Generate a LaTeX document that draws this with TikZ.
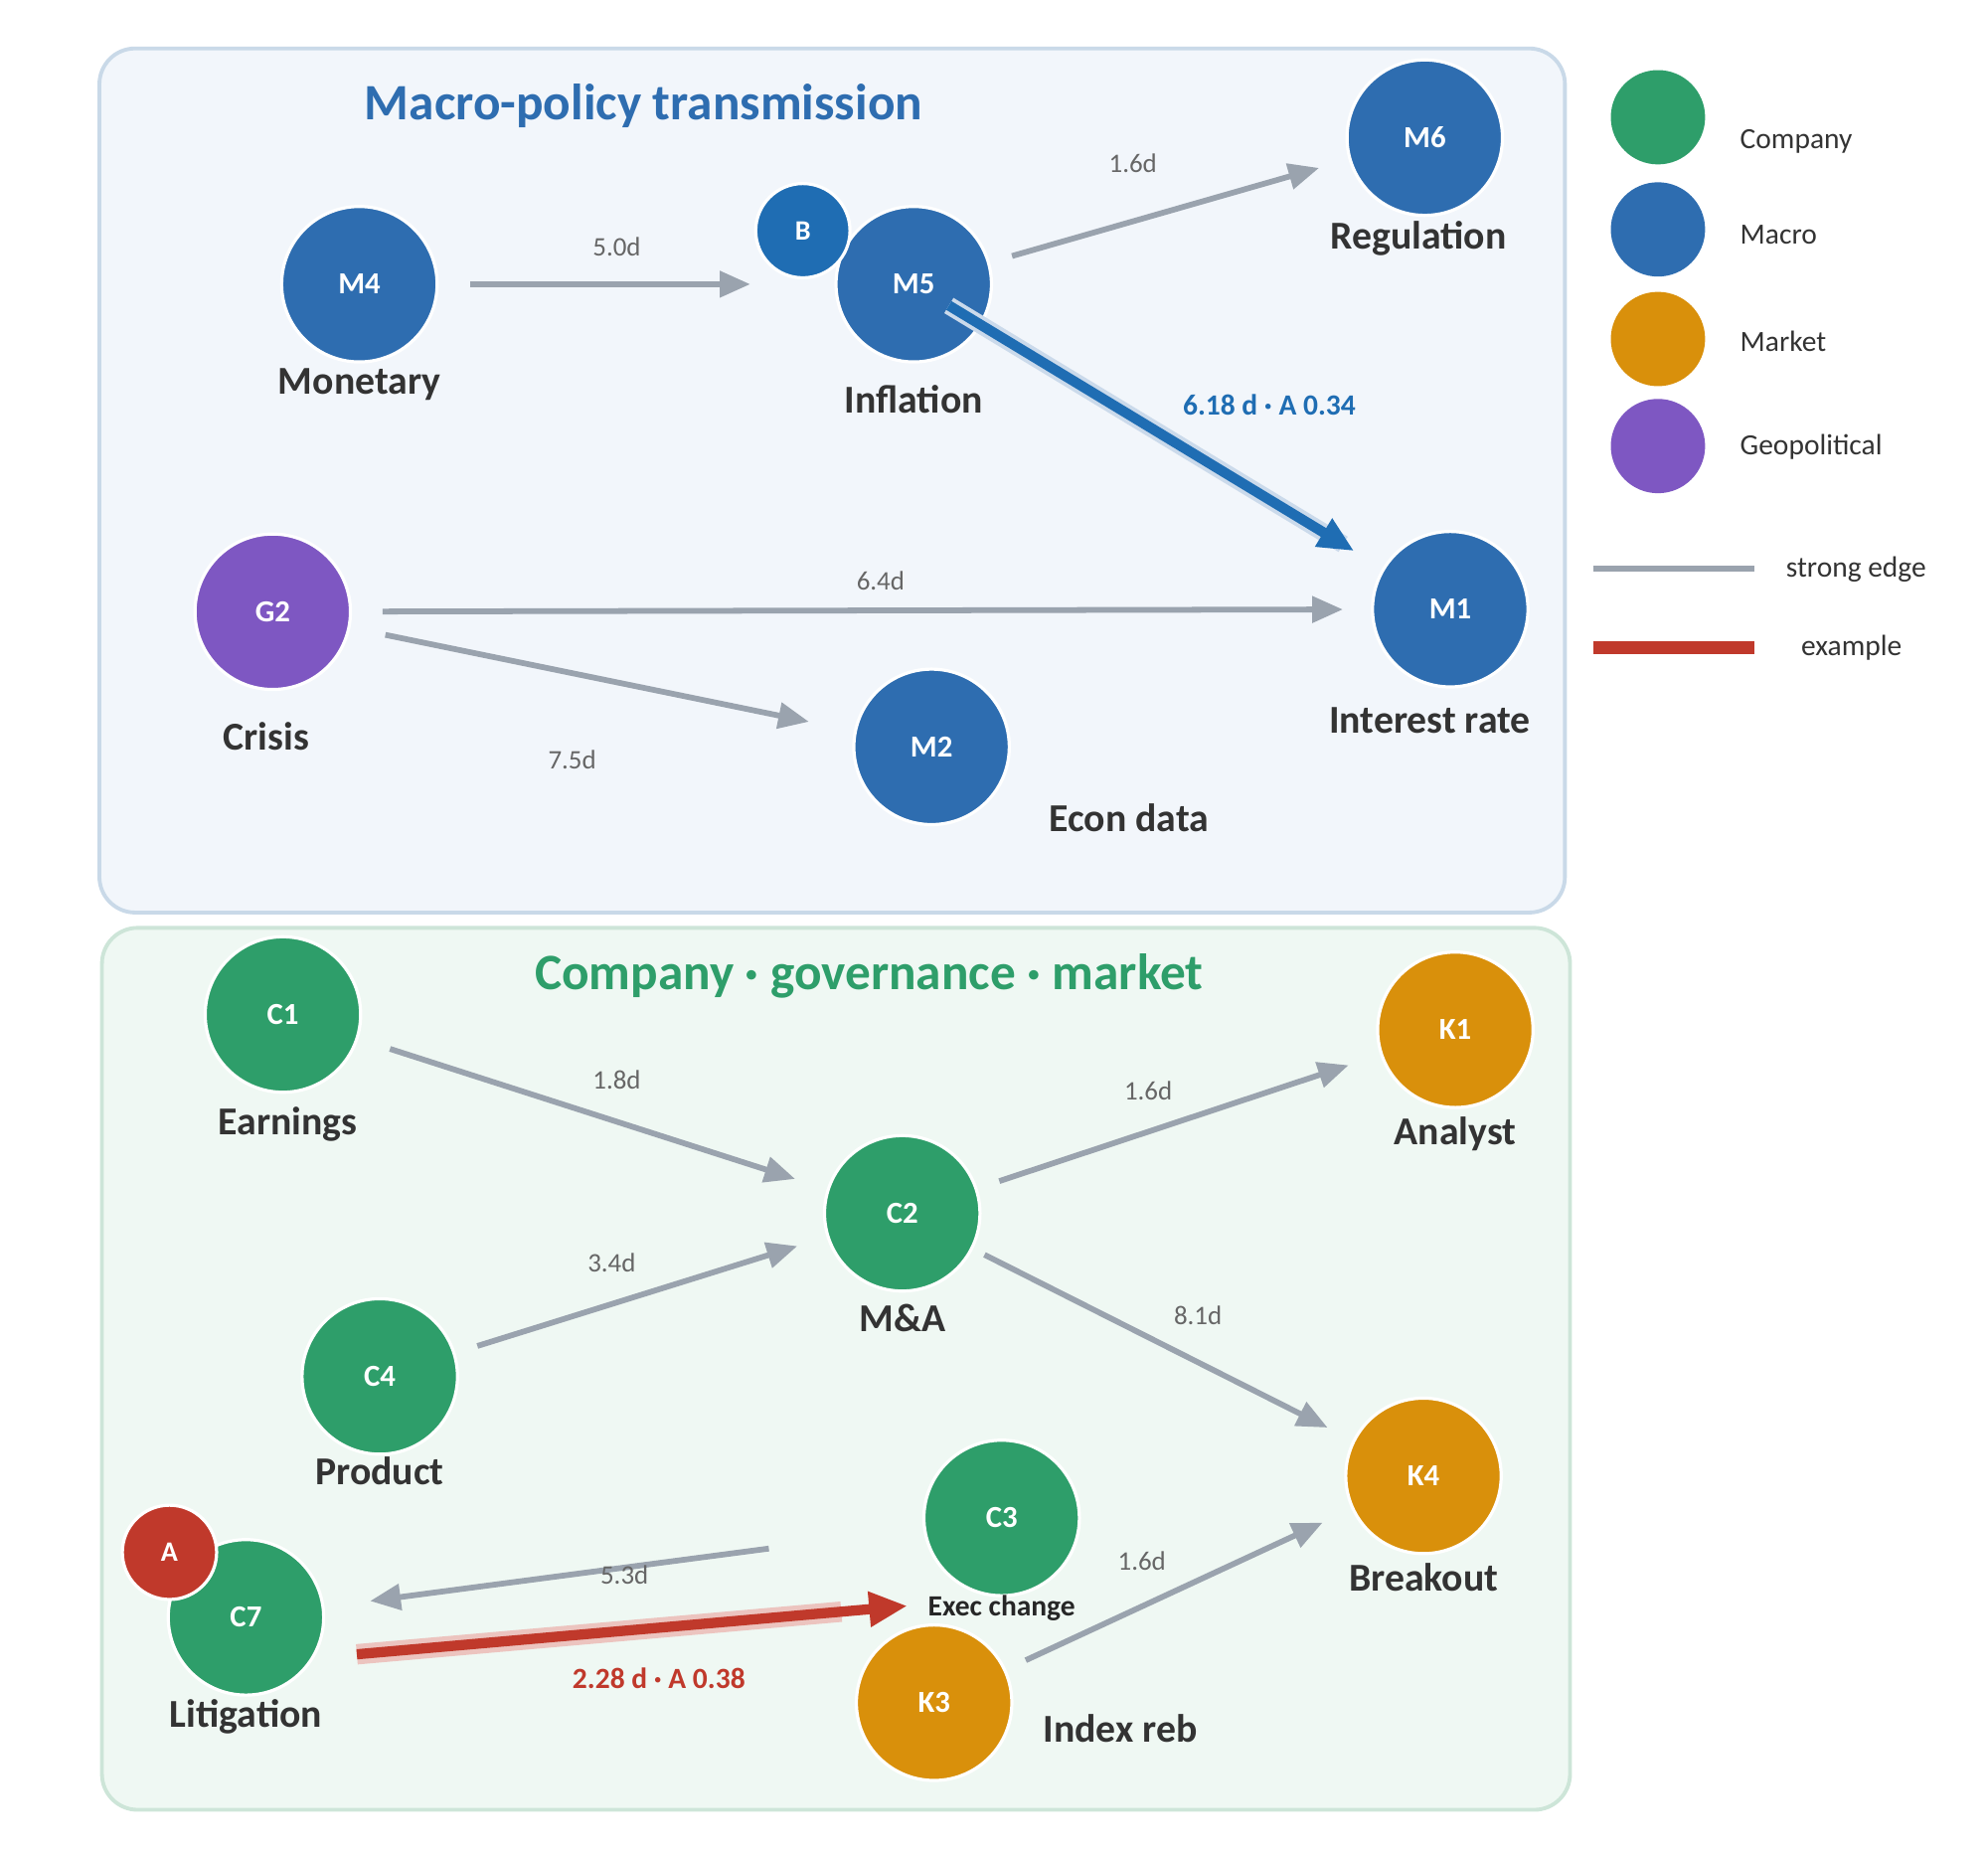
\documentclass[tikz,border=0pt]{standalone}
\usepackage{fontspec}
\setmainfont{Carlito}
\usetikzlibrary{arrows.meta,calc}
\definecolor{cgreen}{HTML}{2E9E6A}
\definecolor{cblue}{HTML}{2E6DB0}
\definecolor{corange}{HTML}{D9900B}
\definecolor{cpurple}{HTML}{7E57C2}
\definecolor{cred}{HTML}{C0392B}
\definecolor{cgray}{HTML}{9AA3AE}
\definecolor{dblue}{HTML}{1F6DB3}
\begin{document}
\begin{tikzpicture}[x=1pt,y=-1pt,
 nd/.style={circle,minimum size=122pt,inner sep=0pt,draw=white,line width=2.5pt,text=white,font=\fontsize{24}{24}\selectfont\bfseries},
 sm/.style={circle,minimum size=74pt,inner sep=0pt,draw=white,line width=2.5pt,text=white,font=\fontsize{22}{22}\selectfont\bfseries},
 lb/.style={font=\fontsize{31}{31}\selectfont\bfseries,text=black!80},
 el/.style={font=\fontsize{21}{21}\selectfont,text=black!60},
 ed/.style={draw=cgray,line width=4.5pt,-{Triangle[length=24pt,width=20pt]},shorten <=26pt,shorten >=26pt},
 lg/.style={font=\fontsize{23}{23}\selectfont,text=black!80,anchor=west}]
\useasboundingbox (0,0) rectangle (1560,1455);
% panels
\draw[fill={rgb,255:red,242;green,246;blue,251},draw={rgb,255:red,201;green,217;blue,232},line width=3pt,rounded corners=28pt] (78,38) rectangle (1228,716);
\draw[fill={rgb,255:red,239;green,248;blue,243},draw={rgb,255:red,205;green,229;blue,216},line width=3pt,rounded corners=28pt] (80,728) rectangle (1232,1420);
\node[font=\fontsize{40}{40}\selectfont\bfseries,text=cblue] (t1) at (505,83) {Macro-policy transmission};
\node[font=\fontsize{40}{40}\selectfont\bfseries,text=cgreen] (t2) at (682,766) {Company · governance · market};
% nodes
\node[nd,fill=cblue] (M4) at (282,223) {M4};
\node[nd,fill=cblue] (M5) at (717,223) {M5};
\node[sm,fill=dblue] (B) at (630,181) {B};
\node[nd,fill=cblue] (M6) at (1118,108) {M6};
\node[nd,fill=cpurple] (G2) at (214,480) {G2};
\node[nd,fill=cblue] (M2) at (731,586) {M2};
\node[nd,fill=cblue] (M1) at (1138,478) {M1};
\node[nd,fill=cgreen] (C1) at (222,796) {C1};
\node[nd,fill=cgreen] (C2) at (708,952) {C2};
\node[nd,fill=corange] (K1) at (1142,808) {K1};
\node[nd,fill=cgreen] (C4) at (298,1080) {C4};
\node[nd,fill=corange] (K4) at (1117,1158) {K4};
\node[nd,fill=cgreen] (C3) at (786,1191) {C3};
\node[nd,fill=cgreen] (C7) at (193,1269) {C7};
\node[sm,fill=cred] (A) at (133,1218) {A};
\node[nd,fill=corange] (K3) at (733,1336) {K3};
% labels
\node[lb] (lM4) at (282,302) {Monetary};
\node[lb] (lM5) at (717,313) {Inflation};
\node[lb] (lM6) at (1113,187) {Regulation};
\node[lb] (lG2) at (209,578) {Crisis};
\node[lb] (lM2) at (886,642) {Econ data};
\node[lb] (lM1) at (1122,565) {Interest rate};
\node[lb] (lC1) at (226,882) {Earnings};
\node[lb] (lC2) at (708,1034) {M\&A};
\node[lb] (lK1) at (1142,890) {Analyst};
\node[lb] (lC4) at (298,1154) {Product};
\node[lb] (lK4) at (1117,1238) {Breakout};
\node[font=\fontsize{23}{23}\selectfont\bfseries,text=black!85] (lC3) at (786,1262) {Exec change};
\node[lb] (lC7) at (193,1347) {Litigation};
\node[lb] (lK3) at (879,1356) {Index reb};
% edges
\draw[ed,shorten <=25pt,shorten >=66pt] (M4) -- (M5);
\node[el] at (484,194) {5.0d};
\draw[ed,shorten <=18pt,shorten >=24pt] (M5) -- (M6);
\node[el] at (889,128) {1.6d};
\draw[draw=cblue!25,line width=14pt,shorten <=-30pt,shorten >=36pt] (M5) -- (M1);
\draw[draw=dblue,line width=8pt,-{Triangle[length=28pt,width=24pt]},shorten <=-30pt,shorten >=26pt] (M5) -- (M1);
\node[font=\fontsize{23}{23}\selectfont\bfseries,text=dblue] at (996,318) {6.18 d · A 0.34};
\draw[ed,shorten <=24pt,shorten >=22pt] (G2) -- (M1);
\node[el] at (691,456) {6.4d};
\draw[ed,shorten <=28pt,shorten >=36pt] (G2) -- (M2);
\node[el] at (449,596) {7.5d};
\draw[ed] (C1) -- (C2);
\node[el] at (484,847) {1.8d};
\draw[ed,shorten <=18pt] (C2) -- (K1);
\node[el] at (901,856) {1.6d};
\draw[ed,shorten <=18pt,shorten >=24pt] (C4) -- (C2);
\node[el] at (480,991) {3.4d};
\draw[ed,shorten <=10pt,shorten >=22pt] (C2) -- (K4);
\node[el] at (940,1032) {8.1d};
\draw[ed,shorten <=122pt,shorten >=36pt] (C3) -- (C7);
\node[el] at (490,1236) {5.3d};
\draw[ed,shorten <=17pt,shorten >=25pt] (K3) -- (K4);
\node[el] at (896,1225) {1.6d};
\coordinate (rs) at (280,1298);
\coordinate (re) at (712,1260);
\draw[draw=cred!30,line width=16pt] (rs) -- ($(rs)!0.88!(re)$);
\draw[draw=cred,line width=8pt,-{Triangle[length=30pt,width=26pt]}] (rs) -- (re);
\node[font=\fontsize{23}{23}\selectfont\bfseries,text=cred] at (517,1317) {2.28 d · A 0.38};
% legend
\node[sm,fill=cgreen,draw=none] (L1) at (1301,92) {};
\node[sm,fill=cblue,draw=none] (L2) at (1301,180) {};
\node[sm,fill=corange,draw=none] (L3) at (1301,266) {};
\node[sm,fill=cpurple,draw=none] (L4) at (1301,350) {};
\node[lg] at (1362,111) {Company};
\node[lg] at (1362,184) {Macro};
\node[lg] at (1362,268) {Market};
\node[lg] at (1362,351) {Geopolitical};
\coordinate (g1) at (1250,446); \coordinate (g2) at (1377,446);
\draw[draw=cgray,line width=5pt] (g1) -- (g2);
\coordinate (r1) at (1250,508); \coordinate (r2) at (1377,508);
\draw[draw=cred,line width=10pt] (r1) -- (r2);
\node[lg] at (1398,447) {strong edge};
\node[lg] at (1410,508) {example};
\end{tikzpicture}
\end{document}
